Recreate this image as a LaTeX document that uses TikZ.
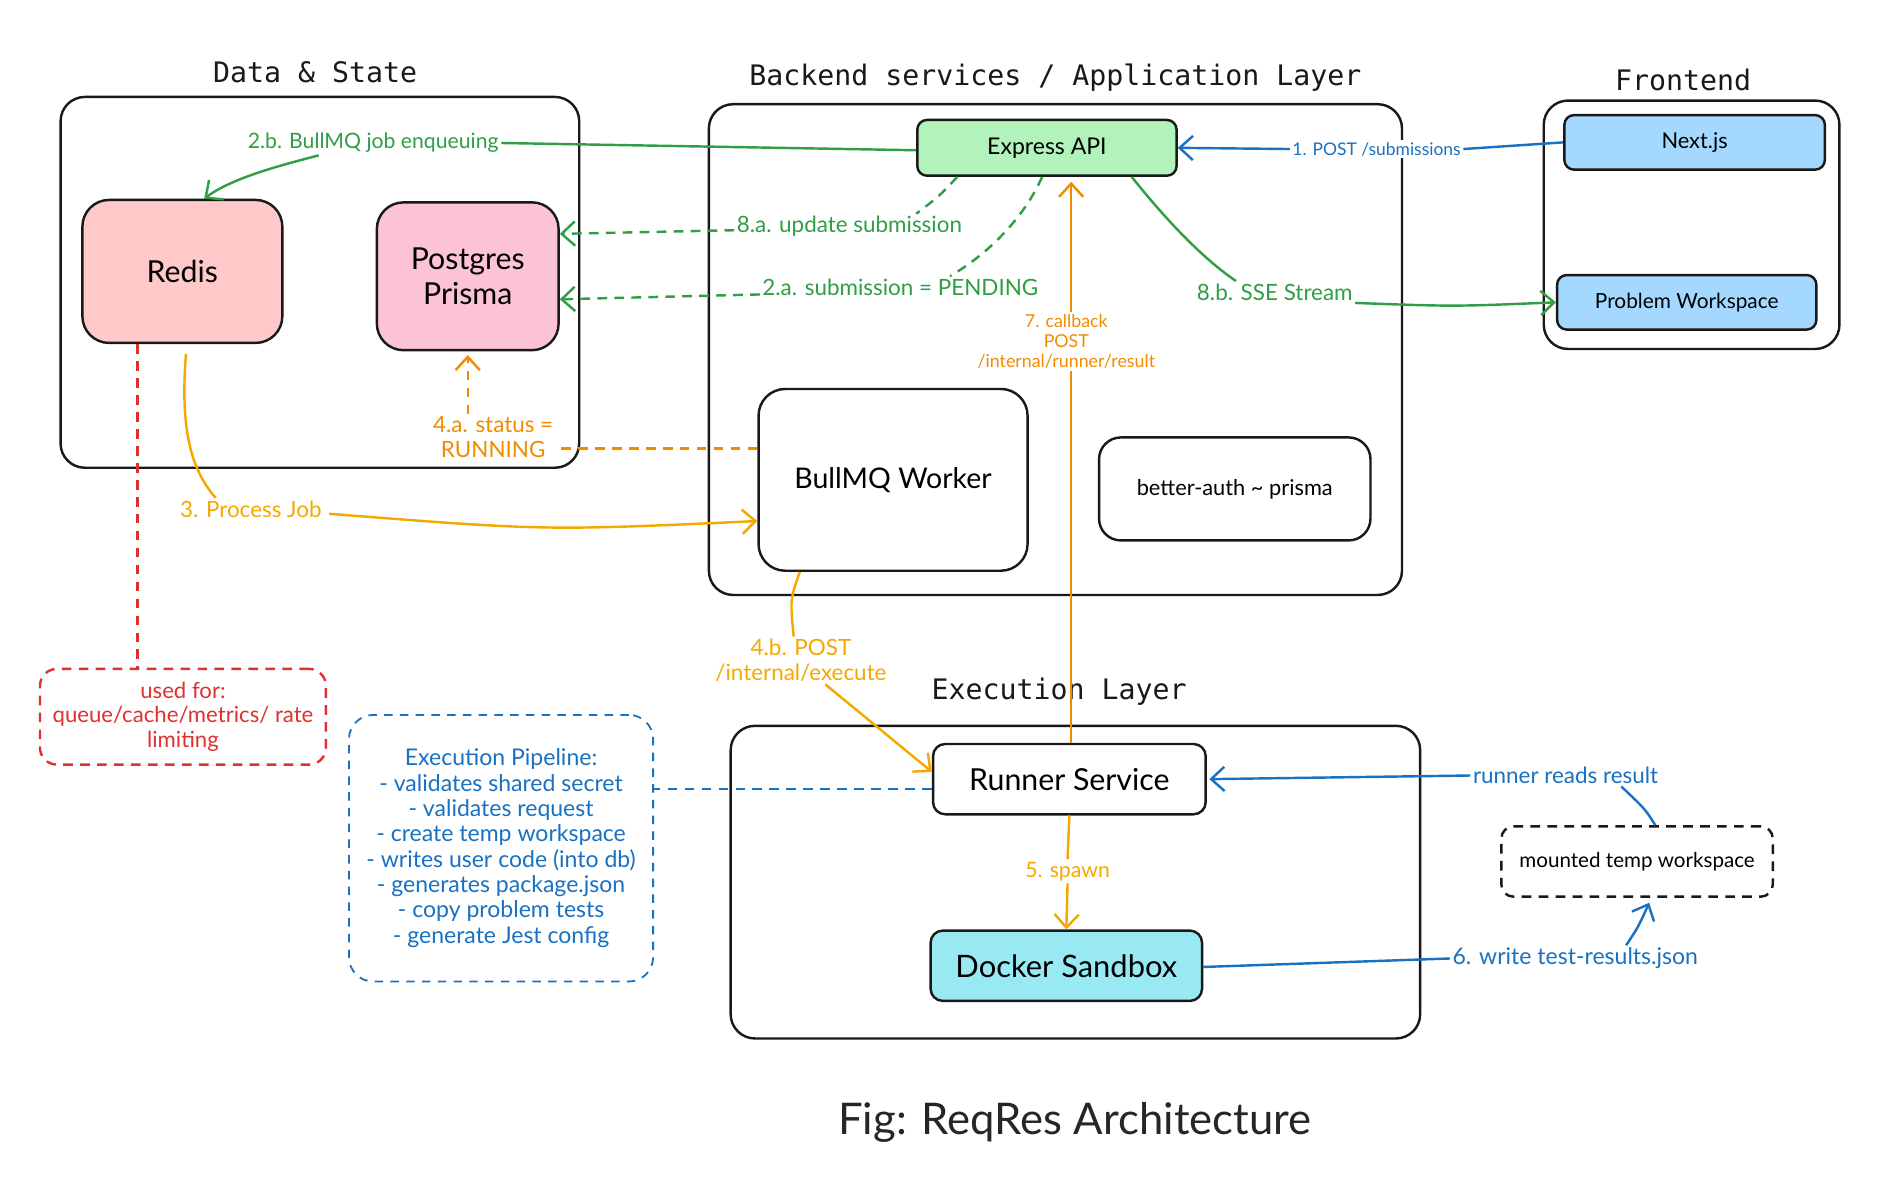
\documentclass[tikz,border=0pt]{standalone}
\usepackage{fontspec}
\setmainfont{Lato}
\newfontfamily\titlef{DejaVu Sans Mono}
\usetikzlibrary{arrows.meta}
\definecolor{cgreen}{HTML}{2F9E44}
\definecolor{cblue}{HTML}{1971C2}
\definecolor{cred}{HTML}{E03131}
\definecolor{corange}{HTML}{F08C00}
\definecolor{cgold}{HTML}{F5A800}
\definecolor{fgreen}{HTML}{B2F2BB}
\definecolor{fred}{HTML}{FFC9C9}
\definecolor{fpink}{HTML}{FCC2D7}
\definecolor{fblue}{HTML}{A5D8FF}
\definecolor{fcyan}{HTML}{99E9F2}
\newcommand\fsBig{\fontsize{25}{29}\selectfont}
\newcommand\fsMid{\fontsize{18}{21}\selectfont}
\newcommand\fsLab{\fontsize{18.5}{20.5}\selectfont}
\newcommand\fsSm{\fontsize{14.4}{17}\selectfont}
\newcommand\fsXs{\fontsize{14.7}{16.5}\selectfont}
\begin{document}
\begin{tikzpicture}[x=1pt,y=-1pt,
  >={Straight Barb[length=11pt,width=20pt]},
  grp/.style={draw=black!90, line width=2pt, rounded corners=20pt, inner sep=0pt},
  nbox/.style={draw=black!90, line width=2pt, align=center, inner sep=0pt},
  ttl/.style={font=\titlef\fontsize{23.3}{27}\selectfont, text=black!90},
  elab/.style={fill=white, inner sep=2pt, align=center},
  gline/.style={draw=cgreen, line width=2pt},
  gdash/.style={draw=cgreen, line width=2pt, dash pattern=on 8pt off 6pt},
  bline/.style={draw=cblue, line width=2pt},
  bdash/.style={draw=cblue, line width=2pt, dash pattern=on 8pt off 6pt},
  yline/.style={draw=cgold, line width=2pt},
  oline/.style={draw=corange, line width=2pt},
  odash/.style={draw=corange, line width=2pt, dash pattern=on 8pt off 6pt},
  rdash/.style={draw=cred, line width=2pt, dash pattern=on 8pt off 6pt},
]
\useasboundingbox (0,0) rectangle (1568,981);
\fill[white] (0,0) rectangle (1568,981);

% group frames
\node[grp, minimum width=428pt, minimum height=306pt] (fds) at (264,233) {};
\node[grp, minimum width=572pt, minimum height=405pt] (fbe) at (871,288.5) {};
\node[grp, minimum width=244pt, minimum height=205pt] (ffe) at (1396,185.5) {};
\node[grp, minimum width=569pt, minimum height=258pt] (fex) at (887.5,728) {};

% titles
\node[ttl] (tds) at (260,60) {Data \& State};
\node[ttl] (tbe) at (871,64) {Backend services / Application Layer};
\node[ttl] (tfe) at (1389,66) {Frontend};
\node[ttl] (tex) at (874,571) {Execution Layer};

% nodes
\node[nbox, fill=fred, rounded corners=22pt, minimum width=165pt, minimum height=118pt, font=\fsBig] (redis) at (150.5,224) {Redis};
\node[nbox, fill=fpink, rounded corners=22pt, minimum width=150pt, minimum height=122pt, font=\fsBig] (pg) at (386,228) {Postgres\\Prisma};
\node[nbox, fill=fgreen, rounded corners=8pt, minimum width=214pt, minimum height=46pt, font=\fontsize{19}{22}\selectfont] (express) at (864,122) {Express API};
\node[nbox, fill=white, rounded corners=22pt, minimum width=222pt, minimum height=150pt, font=\fontsize{23.5}{28}\selectfont] (worker) at (737,396) {BullMQ Worker};
\node[nbox, fill=white, rounded corners=18pt, minimum width=224pt, minimum height=85pt, font=\fsMid] (auth) at (1019,403.5) {better-auth \textasciitilde{} prisma};
\node[nbox, fill=fblue, rounded corners=8pt, minimum width=215pt, minimum height=45pt, font=\fsMid] (next) at (1398.5,117.5) {Next.js};
\node[nbox, fill=fblue, rounded corners=8pt, minimum width=214pt, minimum height=45pt, font=\fontsize{17.2}{21}\selectfont] (pw) at (1392,249.5) {Problem Workspace};
\node[nbox, fill=white, rounded corners=10pt, minimum width=225pt, minimum height=58pt, font=\fsBig] (runner) at (882.5,643) {Runner Service};
\node[nbox, fill=fcyan, rounded corners=10pt, minimum width=224pt, minimum height=58pt, font=\fontsize{25.5}{29}\selectfont] (docker) at (880,797) {Docker Sandbox};
\node[nbox, fill=white, dash pattern=on 8pt off 6pt, rounded corners=10pt, minimum width=224pt, minimum height=58pt, font=\fontsize{17}{20}\selectfont] (mounted) at (1351,711) {mounted temp workspace};
\node[nbox, draw=cred, text=cred, dash pattern=on 8pt off 6pt, rounded corners=14pt, minimum width=236pt, minimum height=79pt, font=\fontsize{18.3}{20.5}\selectfont] (usedfor) at (151,591.5) {used for:\\queue/cache/metrics/ rate\\limiting};
\node[nbox, draw=cblue, text=cblue, line width=1.5pt, dash pattern=on 7pt off 6pt, rounded corners=20pt, minimum width=251pt, minimum height=220pt, font=\fontsize{19}{20.9}\selectfont] (pipe) at (413.5,700) {Execution Pipeline:\\- validates shared secret\\- validates request\\- create temp workspace\\- writes user code (into db)\\- generates package.json\\- copy problem tests\\- generate Jest config};

% labels
\node[elab, text=cblue, font=\fsSm] (l1) at (1136,123) {1. POST /submissions};
\node[elab, text=cgreen, font=\fontsize{17.5}{20}\selectfont] (l2b) at (308,118) {2.b. BullMQ job enqueuing};
\node[elab, text=cgreen, font=\fsLab] (l2a) at (743,237) {2.a. submission = PENDING};
\node[elab, text=cgreen, font=\fsLab] (l8a) at (701,187) {8.a. update submission};
\node[elab, text=cgreen, font=\fsLab] (l8b) at (1052,241) {8.b. SSE Stream};
\node[elab, text=cgold, font=\fsLab] (l3) at (207,420) {3. Process Job};
\node[elab, text=corange, font=\fsLab] (l4a) at (407,361) {4.a. status =\\RUNNING};
\node[elab, text=cgold, font=\fsLab] (l4b) at (661,545) {4.b. POST\\/internal/execute};
\node[elab, text=corange, font=\fsXs] (l7) at (880,282) {7. callback\\POST\\/internal/runner/result};
\node[elab, text=cgold, font=\fontsize{17.5}{20}\selectfont] (l5) at (881,719) {5. spawn};
\node[elab, text=cblue, font=\fsLab] (lrr) at (1292,640) {runner reads result};
\node[elab, text=cblue, font=\fontsize{19}{21}\selectfont] (l6) at (1300,791) {6. write test-results.json};

% connectors
% 1
\draw[bline] (next.west) -- (l1.east);
\draw[bline,->] (l1.west) -- (express.east);
% 2.b
\draw[gline] ([yshift=-2pt]express.west) -- (l2b.east);
\draw[gline,->] ([xshift=-45pt]l2b.south) .. controls (225,138) and (190,148) .. ([xshift=18pt]redis.north);
% 2.a
\draw[gdash] ([xshift=-4pt]express.south) .. controls (845,180) and (815,210) .. ([xshift=-75pt]l2a.north east);
\draw[gdash,->] ([yshift=-6pt]l2a.west) -- ([yshift=-19pt]pg.east);
% 8.a
\draw[gdash] ([xshift=-74pt]express.south) .. controls (775,162) .. ([xshift=-40pt]l8a.north east);
\draw[gdash,->] ([yshift=-3pt]l8a.west) -- ([yshift=35pt]pg.east);
% 8.b
\draw[gline] ([xshift=70pt]express.south) .. controls (965,185) and (995,215) .. ([xshift=-32pt]l8b.north);
\draw[gline,->] ([yshift=-9pt]l8b.east) .. controls (1200,253) .. (pw.west);
% 3
\draw[yline] ([xshift=3pt,yshift=-8pt]redis.south) .. controls (148,360) and (160,390) .. ([xshift=-29pt]l3.north);
\draw[yline,->] ([xshift=4pt,yshift=-4pt]l3.east) .. controls (450,438) .. ([yshift=-34pt]worker.west);
% 4.a
\draw[odash] ([yshift=26pt]worker.west) -- ([yshift=-9pt]l4a.east);
\draw[odash,->] (pg.south |- l4a.north) -- ([yshift=-3pt]pg.south);
% 4.b
\draw[yline] ([xshift=-77pt]worker.south) .. controls (652,495) .. ([xshift=-6pt]l4b.north);
\draw[yline,->] ([xshift=20pt]l4b.south) -- ([yshift=6pt]runner.west);
% 7
\draw[oline] ([xshift=1.5pt]runner.north) -- ([xshift=1.5pt]runner.north |- l7.south);
\draw[oline,->] ([xshift=1.5pt]runner.north |- l7.north) -- ([xshift=1.5pt,yshift=-4pt]runner.north |- express.south);
% 5
\draw[yline] (runner.south) -- (l5.north);
\draw[yline,->] (l5.south) -- (docker.north);
% pipeline link
\draw[bdash] ([yshift=-8pt]runner.west) -- ([yshift=-8pt]runner.west -| pipe.east);
% runner reads result
\draw[bline] ([xshift=15pt]mounted.north) .. controls (1358,668) .. ([xshift=46pt]lrr.south);
\draw[bline,->] (lrr.west) -- ([xshift=2pt]runner.east);
% 6
\draw[bline] ([yshift=-1pt]docker.east) -- (l6.west);
\draw[bline,->] ([xshift=42pt]l6.north) .. controls (1352,765) .. ([xshift=10pt,yshift=-4pt]mounted.south);
% red dashed
\draw[rdash] ([xshift=-37pt]redis.south) -- ([xshift=-37pt]redis.south |- usedfor.north);

% caption
\node[font=\fontsize{36}{42}\selectfont, text=black!85] (cap) at (887,926) {Fig: ReqRes Architecture};
\end{tikzpicture}
\end{document}
